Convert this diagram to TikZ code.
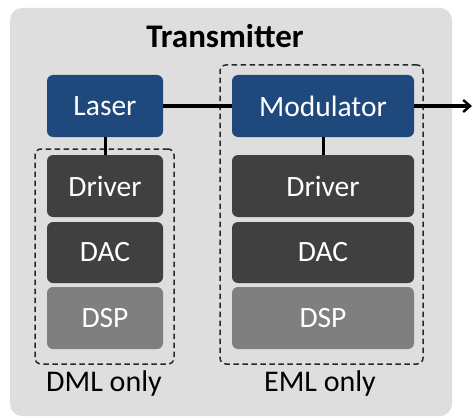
\documentclass[tikz,border=0pt]{standalone}
\usepackage{fontspec}
\setmainfont{Carlito}
\usetikzlibrary{arrows.meta}
\definecolor{panelgray}{RGB}{222,222,222}
\definecolor{optblue}{RGB}{31,73,125}
\definecolor{darkblock}{RGB}{64,64,64}
\definecolor{dspgray}{RGB}{127,127,127}
\definecolor{dashcol}{RGB}{40,40,40}
\tikzset{
  block/.style={rectangle, rounded corners=6pt, draw=none, text=white,
    inner sep=0pt, font=\fontsize{29.5}{32}\selectfont},
  optblock/.style={block, fill=optblue},
  elblock/.style={block, fill=darkblock},
  dspblock/.style={block, fill=dspgray},
  groupbox/.style={rectangle, rounded corners=6pt, draw=dashcol, line width=1.5pt,
    dash pattern=on 5.5pt off 3.5pt, inner sep=0pt},
  link/.style={line width=3pt, black},
  caption/.style={font=\fontsize{30}{32}\selectfont, inner sep=0pt}
}
\begin{document}
\begin{tikzpicture}[x=1pt, y=-1pt]
\useasboundingbox (0,0) rectangle (473,417);
% panel
\fill[panelgray, rounded corners=12pt] (10,8) rectangle (452,416);
\node[font=\bfseries\fontsize{33}{35}\selectfont, inner sep=0pt] (title) at (225,36) {Transmitter};

% dashed groups
\node[groupbox, minimum width=139pt, minimum height=215pt] (dml) at (104.5,256.5) {};
\node[groupbox, minimum width=203pt, minimum height=299pt] (eml) at (321.5,214.5) {};

% left column
\node[optblock, minimum width=116pt, minimum height=62pt] (laser) at (105,106) {Laser};
\node[elblock, minimum width=116pt, minimum height=62pt] (drv1) at (105,186) {Driver};
\node[elblock, minimum width=116pt, minimum height=61pt] (dac1) at (105,252.5) {DAC};
\node[dspblock, minimum width=116pt, minimum height=62pt] (dsp1) at (105,318) {DSP};

% right column
\node[optblock, minimum width=182pt, minimum height=62pt] (mod) at (323,106) {Modulator};
\node[elblock, minimum width=182pt, minimum height=62pt] (drv2) at (323,186) {Driver};
\node[elblock, minimum width=182pt, minimum height=61pt] (dac2) at (323,252.5) {DAC};
\node[dspblock, minimum width=182pt, minimum height=62pt] (dsp2) at (323,318) {DSP};

% captions
\node[caption] (dmlcap) at (104,383) {DML only};
\node[caption] (emlcap) at (320,383) {EML only};

% connections
\coordinate (out) at (472,106);
\draw[link] (laser) -- (mod);
\draw[link, -{Straight Barb[length=7pt, width=12pt, line width=2.4pt]}] (mod) -- (out);
\draw[link] (laser) -- (drv1);
\draw[link] (mod) -- (drv2);
\end{tikzpicture}
\end{document}
